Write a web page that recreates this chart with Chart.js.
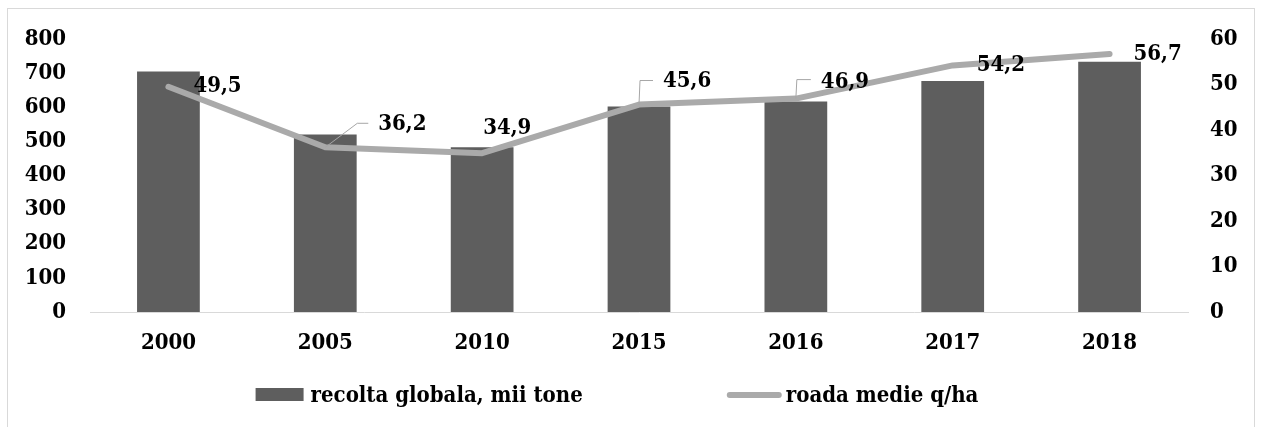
<!DOCTYPE html>
<html>
<head>
<meta charset="utf-8">
<script src="https://cdn.jsdelivr.net/npm/chart.js@4/dist/chart.umd.min.js"></script>
<style>
  html, body { margin: 0; padding: 0; background: #fff; }
  #wrap { width: 1261px; height: 427px; position: relative; }
</style>
</head>
<body>
<div id="wrap"><canvas id="graph"></canvas></div>
<script>
// values
const years = ['2000', '2005', '2010', '2015', '2016', '2017', '2018'];
const recolta = [705, 520, 483, 602, 617, 677, 733]; // mii tone
const roada = [49.5, 36.2, 34.9, 45.6, 46.9, 54.2, 56.7]; // q/ha
const leftTicks = [0, 100, 200, 300, 400, 500, 600, 700, 800];
const rightTicks = [0, 10, 20, 30, 40, 50, 60];

const FONT = "'DejaVu Serif Condensed', 'DejaVu Serif', serif";
const FSIZE = 22;
const BAR = '#5e5e5e';
const LINE = '#aaaaaa';

// where each value label sits relative to its point (and optional leader line)
const labelPlace = [
    { dx: 25, dy: 0 },
    { dx: 53, dy: -23, leader: [[32, -24], [43, -24]] },
    { dx: 1, dy: -25 },
    { dx: 24, dy: -23, leader: [[1, -24], [14, -24]] },
    { dx: 25, dy: -16, leader: [[1, -19], [15, -19]] },
    { dx: 24, dy: 0 },
    { dx: 24, dy: 0 },
];

const frame = {
    id: 'frame',
    beforeDraw(chart) {
        const ctx = chart.ctx;
        ctx.save();
        ctx.strokeStyle = '#d9d9d9';
        ctx.lineWidth = 1;
        ctx.strokeRect(7.5, 8.5, 1247, 440);
        ctx.restore();
    }
};

const valueLabels = {
    id: 'valueLabels',
    afterDatasetsDraw(chart) {
        const ctx = chart.ctx;
        const meta = chart.getDatasetMeta(0);
        ctx.save();
        meta.data.forEach((pt, i) => {
            const p = labelPlace[i];
            if (p.leader) {
                ctx.strokeStyle = '#a6a6a6';
                ctx.lineWidth = 1;
                ctx.beginPath();
                ctx.moveTo(pt.x, pt.y);
                p.leader.forEach(l => ctx.lineTo(pt.x + l[0], pt.y + l[1]));
                ctx.stroke();
            }
            ctx.fillStyle = '#000';
            ctx.font = 'bold ' + FSIZE + 'px ' + FONT;
            ctx.textAlign = 'left';
            ctx.textBaseline = 'middle';
            const txt = roada[i].toFixed(1).replace('.', ',');
            ctx.fillText(txt, pt.x + p.dx, pt.y + p.dy);
        });
        ctx.restore();
    }
};

// legend drawn by hand so the spacing matches the picture
const legendRow = {
    id: 'legendRow',
    afterDraw(chart) {
        const ctx = chart.ctx;
        const y = 396;
        const gap = 144;
        ctx.save();
        ctx.font = 'bold ' + FSIZE + 'px ' + FONT;
        ctx.textBaseline = 'middle';
        ctx.textAlign = 'left';
        const t0 = chart.data.datasets[1].label;
        const t1 = chart.data.datasets[0].label;
        const w0 = 48 + 7 + ctx.measureText(t0).width;
        const w1 = 55 + 4 + ctx.measureText(t1).width;
        let x = 617 - (w0 + gap + w1) / 2;
        ctx.fillStyle = BAR;
        ctx.fillRect(x, y - 8, 48, 13);
        ctx.fillStyle = '#000';
        ctx.fillText(t0, x + 55, y);
        x += w0 + gap;
        ctx.strokeStyle = LINE;
        ctx.lineWidth = 6;
        ctx.lineCap = 'round';
        ctx.beginPath();
        ctx.moveTo(x + 3, y - 1);
        ctx.lineTo(x + 52, y - 1);
        ctx.stroke();
        ctx.fillText(t1, x + 59, y);
        ctx.restore();
    }
};

const data = {
    labels: years,
    datasets: [
        {
            type: 'line',
            label: 'roada medie q/ha',
            data: roada,
            yAxisID: 'y1',
            borderColor: LINE,
            borderWidth: 6,
            borderCapStyle: 'round',
            borderJoinStyle: 'round',
            pointRadius: 0,
            tension: 0,
            order: 0,
        },
        {
            type: 'bar',
            label: 'recolta globala, mii tone',
            data: recolta,
            yAxisID: 'y',
            backgroundColor: BAR,
            barPercentage: 0.4,
            categoryPercentage: 1,
            order: 1,
        },
    ]
};

const tickFont = { family: FONT, size: FSIZE, weight: 'bold' };

const config = {
    type: 'bar',
    data: data,
    options: {
        responsive: false,
        animation: false,
        events: [],
        layout: { padding: { top: 39, bottom: 0, left: 0, right: 0 } },
        scales: {
            x: {
                grid: { display: false, drawTicks: false },
                border: { display: true, color: '#d9d9d9', width: 1 },
                ticks: { color: '#000', font: tickFont, padding: 18, maxRotation: 0 },
                afterFit: (s) => { s.height = 427 - 39 - 273; },
            },
            y: {
                position: 'left',
                min: 0,
                max: 800,
                afterBuildTicks: (s) => { s.ticks = leftTicks.map(v => ({ value: v })); },
                grid: { display: false, drawTicks: false },
                border: { display: false },
                ticks: { color: '#000', font: tickFont, padding: 24 },
                afterFit: (s) => { s.width = 90; },
            },
            y1: {
                position: 'right',
                min: 0,
                max: 60,
                afterBuildTicks: (s) => { s.ticks = rightTicks.map(v => ({ value: v })); },
                grid: { display: false, drawTicks: false },
                border: { display: false },
                ticks: { color: '#000', font: tickFont, padding: 22 },
                afterFit: (s) => { s.width = 1261 - 1188; },
            },
        },
        plugins: {
            legend: { display: false },
            tooltip: { enabled: false },
            title: { display: false },
        }
    },
    plugins: [frame, valueLabels, legendRow],
};

const graph = document.getElementById('graph');
graph.width = 1261;
graph.height = 427;
const chart = new Chart(graph, config);
</script>
</body>
</html>
